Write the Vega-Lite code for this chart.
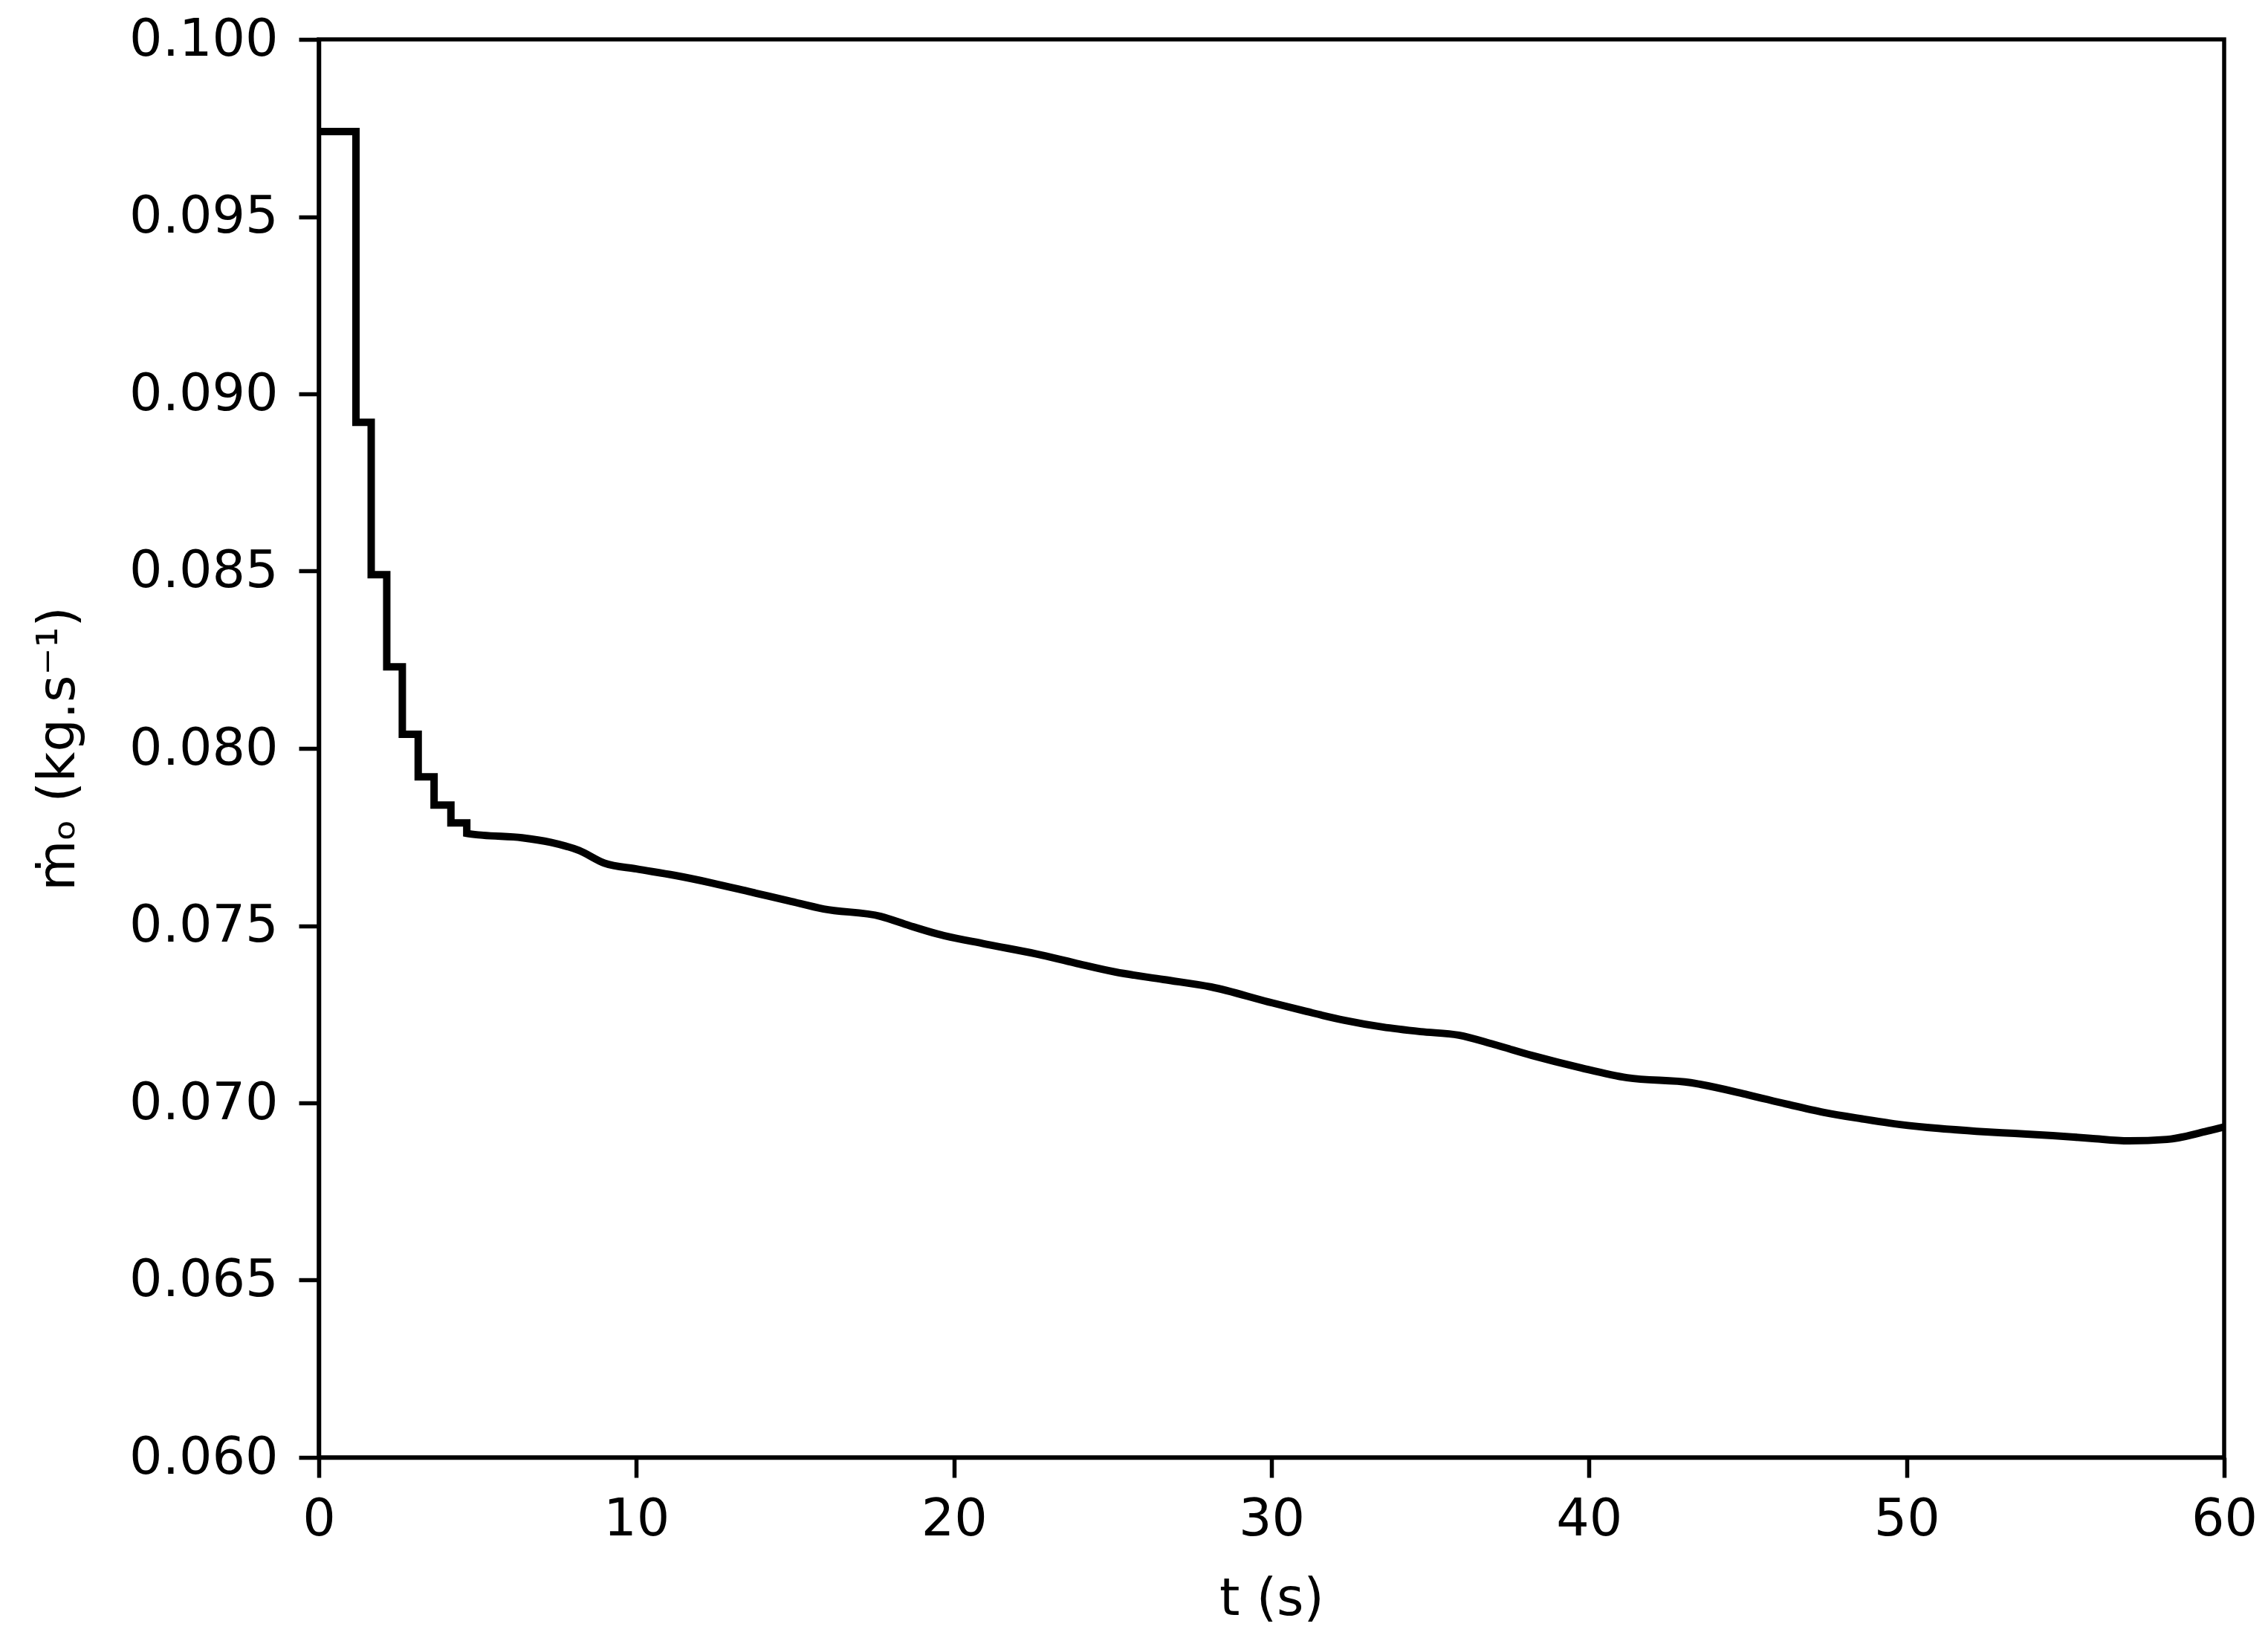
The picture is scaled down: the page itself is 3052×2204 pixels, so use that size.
{
  "$schema": "https://vega.github.io/schema/vega-lite/v6.json",
  "width": 2564,
  "height": 1908,
  "autosize": {"type": "none"},
  "padding": {"left": 429, "top": 53, "right": 59, "bottom": 243},
  "background": "white",
  "config": {
    "view": {"stroke": "black", "strokeWidth": 5.5},
    "axis": {
      "grid": false,
      "domainColor": "black",
      "domainWidth": 5.5,
      "tickColor": "black",
      "tickWidth": 5.5,
      "tickSize": 27,
      "labelFont": "DejaVu Sans",
      "labelFontSize": 70,
      "labelColor": "black",
      "labelPadding": 22,
      "labelLimit": 0,
      "labelFlush": false,
      "labelOverlap": false,
      "titleFont": "DejaVu Sans",
      "titleFontSize": 70,
      "titleFontWeight": "normal",
      "titleColor": "black"
    }
  },
  "data": {
    "values": [
      {"t": 0, "m": 0.0974},
      {"t": 1.17, "m": 0.0974},
      {"t": 1.17, "m": 0.0892},
      {"t": 1.65, "m": 0.0892},
      {"t": 1.65, "m": 0.0849},
      {"t": 2.14, "m": 0.0849},
      {"t": 2.14, "m": 0.0823},
      {"t": 2.63, "m": 0.0823},
      {"t": 2.63, "m": 0.0804},
      {"t": 3.13, "m": 0.0804},
      {"t": 3.13, "m": 0.0792},
      {"t": 3.63, "m": 0.0792},
      {"t": 3.63, "m": 0.0784},
      {"t": 4.16, "m": 0.0784},
      {"t": 4.16, "m": 0.0779},
      {"t": 4.66, "m": 0.0779},
      {"t": 4.66, "m": 0.0776},
      {"t": 5.17, "m": 0.07755},
      {"t": 6.4, "m": 0.07748},
      {"t": 7.3, "m": 0.07735},
      {"t": 8.2, "m": 0.07712},
      {"t": 9.0, "m": 0.07676},
      {"t": 10.0, "m": 0.0766},
      {"t": 11.2, "m": 0.07642},
      {"t": 12.4, "m": 0.0762},
      {"t": 13.6, "m": 0.07595},
      {"t": 14.8, "m": 0.0757},
      {"t": 15.9, "m": 0.07547},
      {"t": 17.7, "m": 0.07526},
      {"t": 18.6, "m": 0.075},
      {"t": 19.5, "m": 0.07476},
      {"t": 21.0, "m": 0.07448},
      {"t": 22.6, "m": 0.0742},
      {"t": 23.8, "m": 0.07395},
      {"t": 25.1, "m": 0.07369},
      {"t": 26.6, "m": 0.07348},
      {"t": 28.1, "m": 0.07327},
      {"t": 29.9, "m": 0.07285},
      {"t": 31.1, "m": 0.07258},
      {"t": 32.3, "m": 0.07233},
      {"t": 33.5, "m": 0.07214},
      {"t": 34.7, "m": 0.07201},
      {"t": 35.9, "m": 0.07191},
      {"t": 37.0, "m": 0.07165},
      {"t": 38.2, "m": 0.07134},
      {"t": 39.7, "m": 0.071},
      {"t": 41.2, "m": 0.07071},
      {"t": 43.2, "m": 0.07057},
      {"t": 45.0, "m": 0.07023},
      {"t": 46.2, "m": 0.06997},
      {"t": 47.4, "m": 0.06973},
      {"t": 48.6, "m": 0.06955},
      {"t": 49.8, "m": 0.06939},
      {"t": 51.0, "m": 0.06928},
      {"t": 52.2, "m": 0.0692},
      {"t": 53.4, "m": 0.06914},
      {"t": 54.6, "m": 0.06908},
      {"t": 55.8, "m": 0.069},
      {"t": 57.0, "m": 0.06893},
      {"t": 58.2, "m": 0.06897},
      {"t": 59.4, "m": 0.06919},
      {"t": 60.0, "m": 0.06932}
    ]
  },
  "mark": {"type": "line", "color": "black", "strokeWidth": 10, "clip": true, "interpolate": "monotone"},
  "encoding": {
    "x": {
      "field": "t",
      "type": "quantitative",
      "scale": {"domain": [0, 60], "nice": false, "zero": false},
      "axis": {
        "values": [0, 10, 20, 30, 40, 50, 60],
        "format": "d",
        "title": "t (s)",
        "titleY": 190,
        "titleBaseline": "middle"
      }
    },
    "y": {
      "field": "m",
      "type": "quantitative",
      "scale": {"domain": [0.06, 0.1], "nice": false, "zero": false},
      "axis": {
        "values": [0.06, 0.065, 0.07, 0.075, 0.08, 0.085, 0.09, 0.095, 0.1],
        "format": ".3f",
        "labelPadding": 28,
        "title": "ṁₒ (kg.s⁻¹)",
        "titleX": -351,
        "titleY": 954,
        "titleAngle": 270,
        "titleAlign": "center",
        "titleBaseline": "middle"
      }
    }
  }
}
